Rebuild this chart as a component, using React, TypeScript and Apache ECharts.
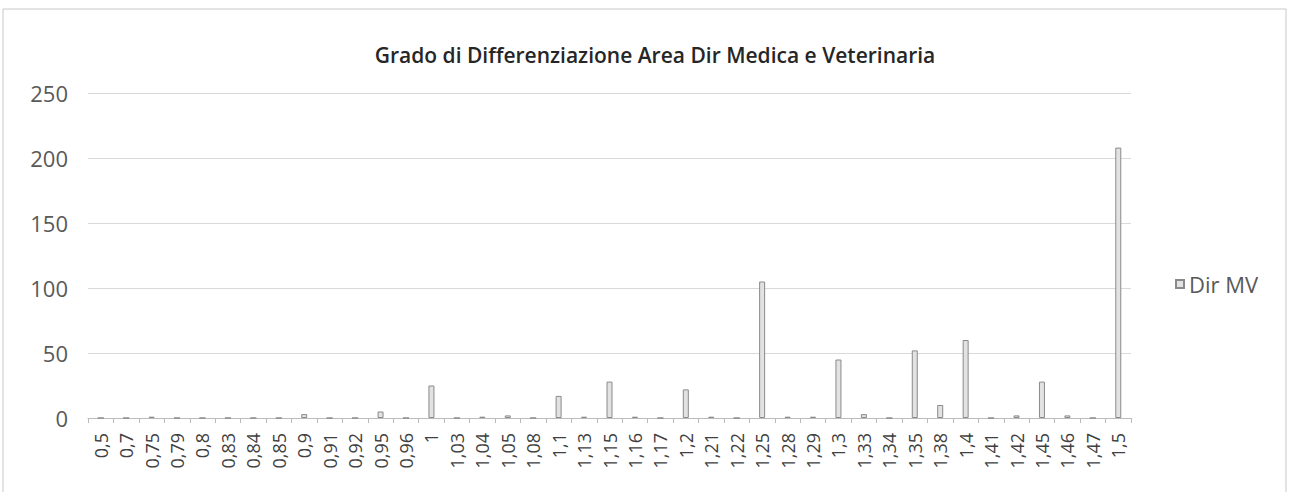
import React, { useEffect, useRef } from "react";
import * as echarts from "echarts";

const categories = [
  "0,5", "0,7", "0,75", "0,79", "0,8", "0,83", "0,84", "0,85", "0,9", "0,91",
  "0,92", "0,95", "0,96", "1", "1,03", "1,04", "1,05", "1,08", "1,1", "1,13",
  "1,15", "1,16", "1,17", "1,2", "1,21", "1,22", "1,25", "1,28", "1,29", "1,3",
  "1,33", "1,34", "1,35", "1,38", "1,4", "1,41", "1,42", "1,45", "1,46", "1,47", "1,5",
];

const dirMV = [
  0, 0, 1, 0, 0, 0, 0, 0, 3, 0,
  0, 5, 0, 25, 0, 1, 2, 0, 17, 1,
  28, 1, 0, 22, 1, 0, 105, 1, 1, 45,
  3, 0, 52, 10, 60, 0, 2, 28, 2, 0, 208,
];

const yTicks = [0, 50, 100, 150, 200, 250];

export default function App() {
  const ref = useRef<HTMLDivElement>(null);
  useEffect(() => {
    if (!ref.current) return;
    const chart = echarts.init(ref.current, undefined, { renderer: "svg" });
    const font = "'Open Sans', 'Liberation Sans', sans-serif";
    chart.setOption({
      animation: false,
      backgroundColor: "#ffffff",
      title: {
        text: "Grado di Differenziazione Area Dir Medica e Veterinaria",
        left: 650,
        textAlign: "center",
        top: 39,
        textStyle: { fontFamily: font, fontSize: 21, fontWeight: 600, color: "#262626" },
      },
      graphic: [
        {
          type: "rect",
          shape: { x: 3, y: 9, width: 1283, height: 490 },
          style: { fill: "none", stroke: "#c8c8c8", lineWidth: 1 },
          silent: true,
        },
      ],
      legend: {
        orient: "vertical",
        left: 1170,
        top: 268,
        itemWidth: 8,
        itemHeight: 8,
        textStyle: { fontFamily: font, fontSize: 22, color: "#595959" },
        data: [{ name: "Dir MV", icon: "rect" }],
      },
      grid: { left: 88, right: 162, top: 93, bottom: 74, containLabel: false },
      xAxis: {
        type: "category",
        data: categories,
        axisLine: { lineStyle: { color: "#bbb" } },
        axisTick: { show: true, alignWithLabel: false, lineStyle: { color: "#bbb" } },
        axisLabel: {
          rotate: 90,
          interval: 0,
          fontFamily: font,
          fontSize: 18,
          color: "#404040",
          margin: 15,
        },
      },
      yAxis: {
        type: "value",
        min: yTicks[0],
        max: yTicks[yTicks.length - 1],
        interval: 50,
        axisLine: { show: false },
        axisTick: { show: false },
        axisLabel: { fontFamily: font, fontSize: 22, color: "#595959", margin: 20 },
        splitLine: { lineStyle: { color: "#d9d9d9" } },
      },
      series: [
        {
          name: "Dir MV",
          type: "bar",
          data: dirMV,
          barWidth: 6,
          itemStyle: { color: "#e2e2e2", borderColor: "#8a8a8a", borderWidth: 1 },
        },
      ],
    });
    return () => chart.dispose();
  }, []);
  return (
    <div
      ref={ref}
      style={{ position: "fixed", left: 0, top: 0, width: 1293, height: 492 }}
    />
  );
}
